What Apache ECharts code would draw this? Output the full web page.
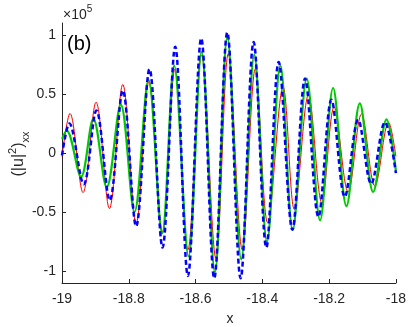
<!DOCTYPE html>
<html>
<head>
<meta charset="utf-8">
<script src="https://cdn.jsdelivr.net/npm/echarts@6/dist/echarts.min.js"></script>
<style>
html,body{margin:0;padding:0;background:#fff;}
#c{width:409px;height:327px;}
</style>
</head>
<body>
<div id="c"></div>
<script>
// values in units of 1e5
var xTicks = [-19, -18.8, -18.6, -18.4, -18.2, -18];
var yTicks = [-1, -0.5, 0, 0.5, 1];

var redX = [-19.000,-18.976,-18.937,-18.898,-18.858,-18.818,-18.778,-18.740,-18.699,-18.662,-18.623,-18.582,-18.539,-18.502,-18.460,-18.421,-18.384,-18.338,-18.304,-18.262,-18.222,-18.185,-18.143,-18.103,-18.063,-18.022,-18.000];
var redY = [-0.03,0.335,-0.335,0.43,-0.47,0.58,-0.60,0.60,-0.67,0.71,-0.82,0.83,-0.89,0.84,-0.82,0.71,-0.59,0.56,-0.48,0.49,-0.42,0.39,-0.33,0.33,-0.28,0.26,-0.03];

var greenX = [-19.000,-18.986,-18.943,-18.906,-18.866,-18.824,-18.783,-18.741,-18.700,-18.664,-18.621,-18.582,-18.542,-18.505,-18.463,-18.424,-18.386,-18.346,-18.309,-18.267,-18.227,-18.188,-18.148,-18.108,-18.068,-18.028,-18.000];
var greenY = [0.12,0.19,-0.20,0.29,-0.29,0.41,-0.50,0.62,-0.68,0.74,-0.875,0.855,-1.01,0.98,-0.90,0.83,-0.75,0.74,-0.65,0.63,-0.57,0.55,-0.45,0.42,-0.33,0.285,-0.15];

var blueX = [-19.000,-18.978,-18.935,-18.897,-18.857,-18.818,-18.778,-18.738,-18.699,-18.661,-18.623,-18.583,-18.544,-18.505,-18.465,-18.426,-18.388,-18.351,-18.310,-18.272,-18.232,-18.193,-18.153,-18.113,-18.074,-18.033,-18.000];
var blueY = [-0.02,0.25,-0.265,0.36,-0.40,0.53,-0.62,0.71,-0.80,0.90,-1.04,0.97,-1.06,1.02,-1.06,0.94,-0.80,0.77,-0.65,0.63,-0.54,0.45,-0.37,0.28,-0.26,0.26,-0.17];

function pairs(xs, ys){ return xs.map(function(x,i){return [x, ys[i]];}); }

var FONT = '"Liberation Sans", Arial, Helvetica, sans-serif';
var TXT = '#262626';

var chart = echarts.init(document.getElementById('c'), null, {renderer:'canvas'});
chart.setOption({
  animation: false,
  backgroundColor: '#fff',
  grid: {left: 62, right: 11, top: 23, bottom: 44},
  xAxis: {
    type: 'value', min: -19, max: -18, interval: 0.2,
    axisLine: {onZero: false, lineStyle: {color: TXT, width: 1}},
    axisTick: {inside: true, length: 4, lineStyle: {color: TXT}},
    axisLabel: {color: TXT, fontSize: 14, fontFamily: FONT, margin: 9,
      formatter: function(v){ return String(+v.toFixed(1)); }},
    splitLine: {show: false}
  },
  yAxis: {
    type: 'value', min: -1.1, max: 1.1,
    axisLine: {show: true, onZero: false, lineStyle: {color: TXT, width: 1}},
    axisTick: {show: true, inside: true, length: 4, lineStyle: {color: TXT}, customValues: yTicks},
    axisLabel: {color: TXT, fontSize: 14, fontFamily: FONT, margin: 6, customValues: yTicks,
      formatter: function(v){ return String(+v.toFixed(1)); }},
    splitLine: {show: false}
  },
  graphic: [
    {type: 'text', left: 63, top: 4, style: {
      text: '{a|×10}{b|5}', rich: {
        a: {fontSize: 14, fontFamily: FONT, fill: TXT, verticalAlign: 'bottom', lineHeight: 18},
        b: {fontSize: 10, fontFamily: FONT, fill: TXT, verticalAlign: 'top', lineHeight: 18}
      }}},
    {type: 'text', left: 67, top: 34, style: {text: '(b)', fontSize: 20, fontFamily: FONT, fill: '#000'}},
    {type: 'text', x: 230, y: 319, style: {text: 'x', fontSize: 14, fontFamily: FONT, fill: TXT, align: 'center', verticalAlign: 'middle'}},
    {type: 'text', x: 19, y: 154, rotation: Math.PI/2, style: {
      text: '{n|(|u|}{s|2}{n|)}{d|xx}', align: 'center', verticalAlign: 'middle', rich: {
        n: {fontSize: 16, fontFamily: FONT, fill: TXT, lineHeight: 24, verticalAlign: 'middle'},
        s: {fontSize: 11, fontFamily: FONT, fill: TXT, lineHeight: 24, verticalAlign: 'top'},
        d: {fontSize: 11, fontFamily: FONT, fill: TXT, lineHeight: 24, verticalAlign: 'bottom'}
      }}}
  ],
  series: [
    {type: 'line', data: pairs(redX, redY), showSymbol: false, smooth: 0.35,
      lineStyle: {color: '#ff0000', width: 1}, z: 2},
    {type: 'line', data: pairs(greenX, greenY), showSymbol: false, smooth: 0.35,
      lineStyle: {color: '#00c800', width: 2.2}, z: 3},
    {type: 'line', data: pairs(blueX, blueY), showSymbol: false, smooth: 0.35,
      lineStyle: {color: '#0000ff', width: 2.5, type: [5, 3]}, z: 4}
  ]
});
</script>
</body>
</html>
